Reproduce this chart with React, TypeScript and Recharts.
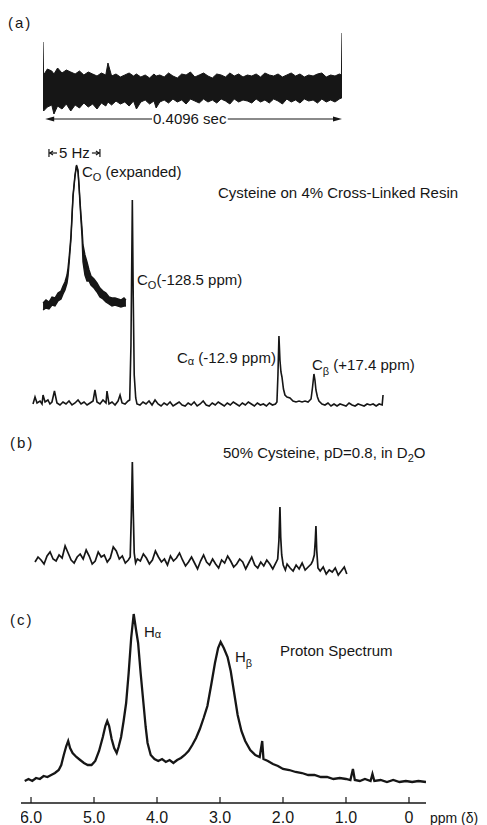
import React from 'react';
import { ComposedChart, LineChart, Line, Area, XAxis, YAxis, ReferenceLine } from 'recharts';

const FONT = '"Liberation Sans", Arial, sans-serif';
const INK = '#161616';

// (a) free induction decay: [time ms, lower envelope, upper envelope]
const fidBand: number[][] = [
  [0, -22, 45], [0.8, -24, 12], [6, -20, 18], [12, -18, 16], [15, -27, 13], [20, -19, 19],
  [26, -22, 14], [32, -17, 17], [38, -24, 15], [44, -18, 13], [50, -21, 16], [56, -16, 12],
  [62, -20, 15], [68, -17, 13], [74, -22, 11], [80, -16, 14], [86, -19, 12], [89, -15, 24],
  [94, -18, 11], [100, -14, 13], [106, -17, 10], [112, -15, 12], [118, -19, 14], [124, -14, 11],
  [128, -22, 13], [134, -15, 10], [140, -13, 12], [146, -17, 9], [152, -14, 13], [155, -21, 11],
  [160, -15, 12], [166, -13, 10], [172, -16, 14], [178, -12, 11], [184, -15, 9], [190, -13, 13],
  [196, -17, 12], [202, -12, 15], [208, -14, 10], [214, -16, 12], [220, -12, 14], [226, -15, 11],
  [232, -13, 9], [238, -16, 13], [244, -12, 12], [250, -14, 10], [256, -17, 14], [262, -12, 11],
  [268, -15, 13], [274, -13, 10], [280, -14, 12], [286, -16, 11], [292, -12, 13], [298, -15, 10],
  [304, -13, 14], [310, -16, 12], [316, -12, 11], [322, -14, 13], [328, -17, 10], [334, -12, 12],
  [340, -15, 14], [346, -13, 11], [352, -16, 13], [358, -12, 10], [364, -14, 12], [370, -13, 11],
  [376, -16, 13], [382, -12, 14], [388, -15, 10], [394, -13, 12], [400, -15, 11], [406, -12, 13],
  [408.8, -11, 12], [409.6, -11, 54],
];

// (a) expanded carbonyl line: [Hz from line centre, lower, upper]
const insetBand: number[][] = [
  [-3.33, 0, 7], [-3.04, 2, 10], [-2.75, 1, 8], [-2.45, 5, 13], [-2.16, 4, 12], [-1.86, 9, 17],
  [-1.57, 11, 19], [-1.37, 16, 24], [-1.18, 20, 28], [-0.98, 27, 35], [-0.88, 34, 42],
  [-0.78, 46, 52], [-0.69, 58, 62], [-0.59, 71, 75], [-0.49, 92, 95], [-0.39, 113, 115],
  [-0.2, 133, 135], [-0.05, 144, 145], [0.1, 138, 140], [0.2, 123, 125], [0.29, 107, 110],
  [0.39, 90, 95], [0.49, 74, 82], [0.59, 48, 65], [0.78, 35, 55], [0.98, 29, 48], [1.18, 29, 40],
  [1.37, 25, 34], [1.67, 22, 31], [1.96, 18, 27], [2.25, 13, 22], [2.55, 11, 19], [2.84, 8, 17],
  [3.14, 6, 13], [3.43, 4, 12], [3.73, 5, 12], [4.02, 4, 11], [4.31, 3, 10], [4.61, 4, 12], [4.8, 4, 10],
];

// (a) 13C spectrum, resin: [shift ppm rel. CS2, intensity]
const carbonResin: number[][] = [
  [-207.7, 1], [-206.1, 8], [-204.5, 2], [-202.1, 4], [-200.5, 1], [-199.7, 10], [-198.1, 3],
  [-195.8, 5], [-194.2, 1], [-192.6, 3], [-190.6, 14], [-188.6, 2], [-186.2, 0], [-183.8, 3],
  [-181.4, 1], [-179.0, 4], [-176.6, 0], [-174.2, 2], [-171.8, 5], [-169.4, 1], [-167.0, 3],
  [-164.6, 0], [-162.2, 2], [-159.8, 4], [-158.3, 15], [-156.7, 3], [-154.3, 1], [-151.9, 5],
  [-149.5, 2], [-148.7, 14], [-147.1, 1], [-144.7, 3], [-142.3, 0], [-139.9, 4], [-138.3, 10],
  [-136.7, 2], [-134.3, 1], [-131.9, 4], [-130.6, 5], [-129.6, 60], [-128.5, 205], [-127.8, 110],
  [-127.0, 30], [-125.8, 7], [-124.8, 1], [-122.4, 0], [-120.0, 3], [-117.6, 1], [-115.2, 4],
  [-112.8, 0], [-110.4, 5], [-108.0, 1], [-105.6, -1], [-103.2, 2], [-100.8, 0], [-98.4, 3],
  [-96.0, -1], [-93.6, 1], [-91.2, 3], [-88.8, 0], [-86.4, -1], [-84.0, 2], [-81.6, 0], [-79.2, 3],
  [-76.8, -1], [-74.4, 1], [-72.0, 4], [-69.6, 0], [-67.2, -1], [-64.8, 2], [-62.4, 0], [-60.0, 3],
  [-57.6, 1], [-55.2, -1], [-52.8, 2], [-50.4, 0], [-48.0, 3], [-45.6, 1], [-43.2, -1], [-40.8, 2],
  [-38.4, 0], [-36.0, 3], [-33.6, 1], [-31.2, -1], [-28.8, 2], [-26.4, 0], [-24.0, 1], [-21.6, -1],
  [-19.2, 2], [-16.8, 0], [-14.4, 1], [-13.2, 3], [-12.4, 30], [-11.6, 69], [-10.8, 45], [-10.0, 33],
  [-9.2, 28], [-8.0, 16], [-6.8, 10], [-5.2, 8], [-2.8, 7], [-0.4, 4], [2.0, 3], [4.4, 4], [6.8, 3],
  [9.2, 4], [11.6, 3], [14.0, 6], [15.2, 18], [16.3, 31], [17.1, 25], [17.9, 15], [19.1, 8],
  [20.3, 4], [22.7, 1], [25.1, 0], [27.5, 2], [29.9, -1], [32.3, 1], [34.7, -1], [37.1, 1],
  [39.5, 0], [41.9, -1], [44.3, 2], [46.7, 0], [49.1, -1], [51.5, 1], [53.9, 0], [56.3, -1],
  [58.7, 1], [61.1, 0], [63.5, 1], [65.9, -1], [68.3, 1], [70.7, 0], [71.4, 10],
];

// (b) 13C spectrum, 50% cysteine in D2O
const carbonSolution: number[][] = [
  [-206.1, 3], [-203.7, 8], [-201.3, 5], [-198.9, 1], [-196.5, 9], [-194.1, 13], [-191.7, 6],
  [-189.3, 4], [-186.9, 10], [-184.5, 7], [-182.1, 19], [-179.7, 12], [-177.3, 5], [-174.9, 2],
  [-172.5, 8], [-170.1, 11], [-167.7, 6], [-165.3, 15], [-162.9, 9], [-160.5, 1], [-158.1, 4],
  [-155.7, 13], [-153.3, 8], [-150.9, 10], [-148.5, 3], [-146.1, 7], [-143.7, 18], [-141.3, 14],
  [-138.9, 6], [-136.5, 9], [-134.1, 2], [-131.7, 5], [-130.2, 8], [-129.3, 50], [-128.5, 103],
  [-127.8, 55], [-127.0, 12], [-125.9, 2], [-124.5, 6], [-122.1, 4], [-119.7, 11], [-117.3, 7],
  [-114.9, 1], [-112.5, 5], [-110.1, 14], [-107.7, 8], [-105.3, 3], [-102.9, 6], [-100.5, 0],
  [-98.1, 9], [-95.7, 4], [-93.3, 7], [-90.9, 12], [-88.5, 5], [-86.1, -1], [-83.7, 3], [-81.3, 8],
  [-78.9, 2], [-76.5, -4], [-74.1, 4], [-71.7, 10], [-69.3, 3], [-66.9, 0], [-64.5, 6], [-62.1, 1],
  [-59.7, -3], [-57.3, 5], [-54.9, 2], [-52.5, 9], [-50.1, 4], [-47.7, -2], [-45.3, 1], [-42.9, 6],
  [-40.5, 3], [-38.1, -4], [-35.7, 2], [-33.3, 8], [-30.9, 0], [-28.5, -3], [-26.1, 3], [-23.7, -1],
  [-21.3, 5], [-18.9, 1], [-16.5, -4], [-14.1, 2], [-12.6, 6], [-11.6, 25], [-10.8, 58], [-10.2, 28],
  [-9.4, 10], [-8.2, 0], [-6.5, -5], [-5.1, 1], [-2.7, -3], [-0.3, -6], [2.1, 0], [4.5, -4], [6.9, 2],
  [9.3, -5], [11.7, -2], [14.1, 1], [15.3, 4], [16.6, 10], [17.4, 25], [17.9, 39], [18.5, 15],
  [19.5, -3], [21.3, -6], [23.7, -2], [26.1, -9], [28.5, -5], [30.9, -7], [33.3, -3], [35.7, -10],
  [38.1, -6], [40.5, -2], [42.5, -9],
];

// (c) proton spectrum: [delta ppm, intensity]
const proton: number[][] = [
  [6.1, 22], [6.04, 24], [5.98, 22], [5.92, 25], [5.86, 24], [5.8, 27], [5.74, 26], [5.68, 28],
  [5.62, 30], [5.56, 33], [5.52, 38], [5.48, 48], [5.44, 57], [5.41, 62], [5.38, 55], [5.34, 50],
  [5.28, 46], [5.22, 43], [5.16, 40], [5.1, 38], [5.04, 38], [4.98, 42], [4.92, 52], [4.86, 66],
  [4.82, 77], [4.79, 82], [4.76, 77], [4.72, 64], [4.68, 55], [4.64, 50], [4.61, 56], [4.57, 66],
  [4.53, 82], [4.49, 100], [4.45, 130], [4.41, 165], [4.37, 189], [4.33, 172], [4.3, 160],
  [4.26, 130], [4.22, 103], [4.18, 76], [4.15, 60], [4.1, 48], [4.04, 44], [3.98, 42], [3.92, 44],
  [3.86, 41], [3.8, 43], [3.74, 40], [3.68, 43], [3.62, 45], [3.56, 48], [3.5, 52], [3.44, 58],
  [3.38, 65], [3.32, 74], [3.26, 85], [3.2, 97], [3.14, 118], [3.08, 140], [3.03, 155], [2.99, 161],
  [2.94, 155], [2.88, 146], [2.83, 132], [2.78, 112], [2.72, 88], [2.66, 72], [2.6, 62], [2.52, 53],
  [2.44, 48], [2.37, 46], [2.33, 62], [2.31, 44], [2.24, 42], [2.16, 39], [2.08, 37], [2.0, 34],
  [1.9, 33], [1.8, 31], [1.7, 30], [1.6, 28], [1.5, 28], [1.4, 26], [1.3, 26], [1.2, 24], [1.1, 25],
  [1.0, 24], [0.93, 23], [0.89, 34], [0.86, 23], [0.78, 22], [0.7, 24], [0.61, 22], [0.58, 29],
  [0.55, 22], [0.45, 23], [0.35, 21], [0.25, 23], [0.15, 21], [0.05, 22], [-0.05, 21], [-0.15, 22],
  [-0.27, 21],
];

const ppmTicks = [6, 5, 4, 3, 2, 1, 0];

const fidData = fidBand.map(([t, lo, hi]) => ({ t, range: [lo, hi] }));
const insetData = insetBand.map(([hz, lo, hi]) => ({ hz, range: [lo, hi] }));
const resinData = carbonResin.map(([s, v]) => ({ s, v }));
const solutionData = carbonSolution.map(([s, v]) => ({ s, v }));
const protonData = proton.map(([ppm, v]) => ({ ppm, v }));

const M = { top: 0, right: 0, bottom: 0, left: 0 };
const SHIFT_DOMAIN: [number, number] = [-210.1, 76.95];

const TimeArrow = (p: any) => {
  const { x1, y1, x2 } = p;
  const w = x2 - x1;
  const gl = x1 + w * 0.36;
  const gr = x1 + w * 0.615;
  const tc = x1 + w * 0.487;
  return (
    <g>
      <line x1={x1 + 6} y1={y1} x2={gl} y2={y1} stroke={INK} strokeWidth={1.2} />
      <line x1={gr} y1={y1} x2={x2 - 6} y2={y1} stroke={INK} strokeWidth={1.2} />
      <polygon points={`${x1},${y1} ${x1 + 9},${y1 - 2.5} ${x1 + 9},${y1 + 2.5}`} fill={INK} />
      <polygon points={`${x2},${y1} ${x2 - 9},${y1 - 2.5} ${x2 - 9},${y1 + 2.5}`} fill={INK} />
      <text x={tc} y={y1 + 5} textAnchor="middle" fontSize={15} fontFamily={FONT} fill={INK}>0.4096 sec</text>
    </g>
  );
};

const HzBar = (p: any) => {
  const { x1, y1, x2 } = p;
  const mid = (x1 + x2) / 2;
  return (
    <g stroke={INK} strokeWidth={1.2}>
      <line x1={x1} y1={y1 - 4} x2={x1} y2={y1 + 4} />
      <line x1={x2} y1={y1 - 4} x2={x2} y2={y1 + 4} />
      <line x1={x1} y1={y1} x2={x1 + 8} y2={y1} />
      <line x1={x2 - 8} y1={y1} x2={x2} y2={y1} />
      <polyline points={`${x1 + 4},${y1 - 2} ${x1 + 1},${y1} ${x1 + 4},${y1 + 2}`} fill="none" />
      <polyline points={`${x2 - 4},${y1 - 2} ${x2 - 1},${y1} ${x2 - 4},${y1 + 2}`} fill="none" />
      <text x={mid} y={y1 + 5} textAnchor="middle" fontSize={15} fontFamily={FONT} fill={INK} stroke="none">5 Hz</text>
    </g>
  );
};

const T = (props: any) => (
  <text fontSize={15} fontFamily={FONT} fill={INK} {...props} />
);

export default function App() {
  return (
    <div style={{ position: 'absolute', left: 0, top: 0, width: 487, height: 825, background: '#fff', overflow: 'hidden' }}>
      <div style={{ position: 'absolute', left: 43, top: 28 }}>
        <ComposedChart width={299} height={101} data={fidData} margin={M}>
          <XAxis type="number" dataKey="t" domain={[0, 409.6]} hide allowDataOverflow />
          <YAxis type="number" domain={[-42, 59]} hide allowDataOverflow />
          <Area type="linear" dataKey="range" stroke={INK} strokeWidth={1} fill={INK} fillOpacity={1} dot={false} activeDot={false} isAnimationActive={false} />
          <ReferenceLine segment={[{ x: 3, y: -32 }, { x: 409.6, y: -32 }]} shape={TimeArrow} />
        </ComposedChart>
      </div>

      <div style={{ position: 'absolute', left: 40, top: 140 }}>
        <ComposedChart width={90} height={175} data={insetData} margin={M}>
          <XAxis type="number" dataKey="hz" domain={[-3.63, 5.2]} hide allowDataOverflow />
          <YAxis type="number" domain={[-5, 170]} hide allowDataOverflow />
          <Area type="linear" dataKey="range" stroke={INK} strokeWidth={1.4} fill={INK} fillOpacity={1} dot={false} activeDot={false} isAnimationActive={false} />
          <ReferenceLine segment={[{ x: -2.75, y: 157 }, { x: 2.25, y: 157 }]} shape={HzBar} />
        </ComposedChart>
      </div>

      <div style={{ position: 'absolute', left: 30, top: 190 }}>
        <LineChart width={360} height={225} data={resinData} margin={M}>
          <XAxis type="number" dataKey="s" domain={SHIFT_DOMAIN} hide allowDataOverflow />
          <YAxis type="number" domain={[-10, 215]} hide allowDataOverflow />
          <Line type="linear" dataKey="v" stroke={INK} strokeWidth={1.6} dot={false} activeDot={false} isAnimationActive={false} />
        </LineChart>
      </div>

      <div style={{ position: 'absolute', left: 30, top: 450 }}>
        <LineChart width={360} height={140} data={solutionData} margin={M}>
          <XAxis type="number" dataKey="s" domain={SHIFT_DOMAIN} hide allowDataOverflow />
          <YAxis type="number" domain={[-25, 115]} hide allowDataOverflow />
          <Line type="linear" dataKey="v" stroke={INK} strokeWidth={1.7} dot={false} activeDot={false} isAnimationActive={false} />
        </LineChart>
      </div>

      <div style={{ position: 'absolute', left: 21, top: 605 }}>
        <LineChart width={405} height={220} data={protonData} margin={M}>
          <XAxis
            type="number"
            dataKey="ppm"
            domain={[-0.27, 6.159]}
            reversed
            allowDataOverflow
            ticks={ppmTicks}
            interval={0}
            tickFormatter={(v: number) => (v === 0 ? '0' : v.toFixed(1))}
            tickSize={-6}
            tickMargin={15}
            height={22}
            axisLine={{ stroke: INK, strokeWidth: 1.5 }}
            tickLine={{ stroke: INK, strokeWidth: 1.2 }}
            tick={{ fill: INK, fontSize: 16, fontFamily: FONT }}
          />
          <YAxis type="number" domain={[0, 198]} hide allowDataOverflow />
          <Line type="linear" dataKey="v" stroke={INK} strokeWidth={2.3} dot={false} activeDot={false} isAnimationActive={false} />
        </LineChart>
      </div>

      <svg width={487} height={825} style={{ position: 'absolute', left: 0, top: 0, pointerEvents: 'none' }}>
        <T x={8} y={28} letterSpacing={2}>(a)</T>
        <T x={82} y={177}>C<tspan fontSize={11} dy={4}>O</tspan><tspan dy={-4}> (expanded)</tspan></T>
        <T x={218} y={198}>Cysteine on 4% Cross-Linked Resin</T>
        <T x={137} y={285}>C<tspan fontSize={11} dy={4}>O</tspan><tspan dy={-4}>(-128.5 ppm)</tspan></T>
        <T x={177} y={363}>C<tspan fontSize={11} dy={2}>α</tspan><tspan dy={-2}> (-12.9 ppm)</tspan></T>
        <T x={312} y={370}>C<tspan fontSize={11} dy={5}>β</tspan><tspan dy={-5}> (+17.4 ppm)</tspan></T>
        <T x={10} y={448} letterSpacing={2}>(b)</T>
        <T x={223} y={458}>50% Cysteine, pD=0.8, in D<tspan fontSize={11} dy={4}>2</tspan><tspan dy={-4}>O</tspan></T>
        <T x={10} y={625} letterSpacing={2}>(c)</T>
        <T x={144} y={637}>H<tspan fontSize={11} dy={1}>α</tspan></T>
        <T x={235} y={662}>H<tspan fontSize={11} dy={5}>β</tspan></T>
        <T x={280} y={656}>Proton Spectrum</T>
        <T x={430} y={823} fontSize={14}>ppm (δ)</T>
      </svg>
    </div>
  );
}
